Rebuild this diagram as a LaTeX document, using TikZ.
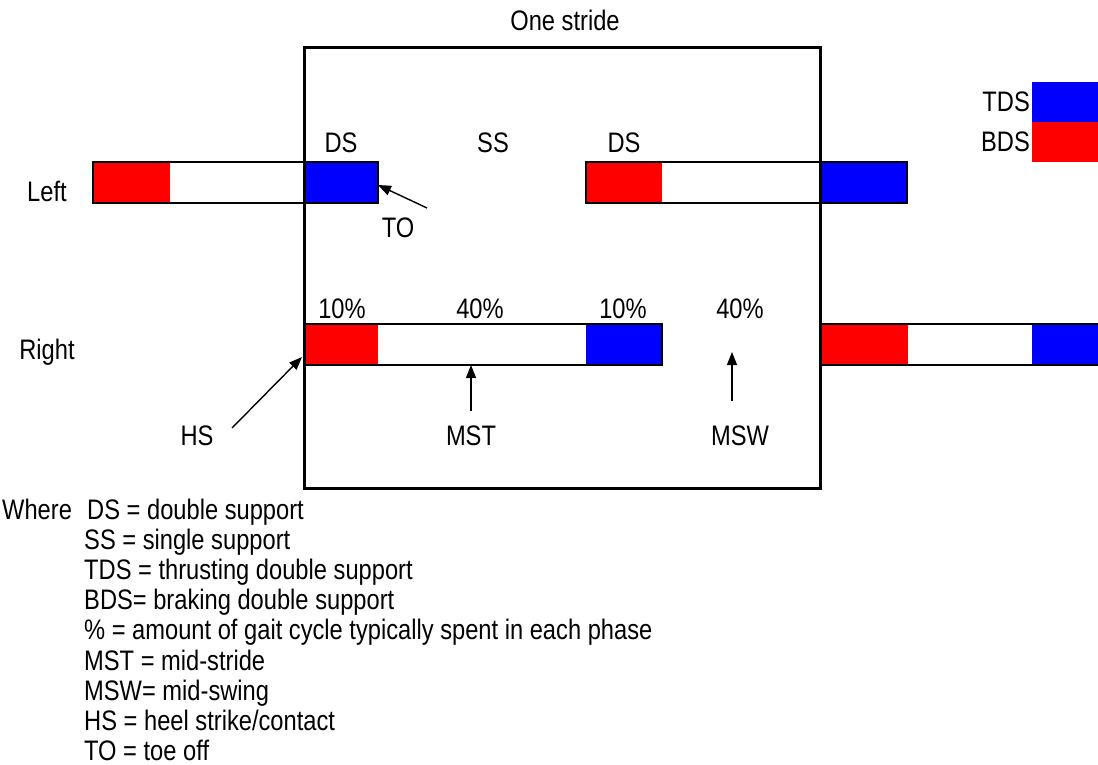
\documentclass[tikz,border=0pt]{standalone}
\usepackage{fontspec}
\setmainfont{Liberation Sans}
\newfontfamily\tallsans{Liberation Sans}[FakeStretch=0.84]
\usetikzlibrary{arrows.meta}
\tikzset{
  lbl/.style={inner sep=0pt, anchor=base, font=\tallsans\fontsize{28.2}{32}\selectfont},
  lgd/.style={lbl, anchor=base west},
  seg/.style={inner sep=0pt, outer sep=0pt, draw=none, anchor=north west, minimum height=41pt},
  barframe/.style={seg, draw=black, line width=2.5pt},
  pointer/.style={line width=1.4pt, -{Triangle[length=13pt,width=10pt]}},
}
\begin{document}
\begin{tikzpicture}[x=1pt,y=-1pt]
\useasboundingbox (0,0) rectangle (1098,765);
\clip (0,0) rectangle (1098,765);

% title
\node[lbl] (title) at (565,31) {One stride};

% legend swatches (top right)
\node[seg, fill=blue, minimum width=70pt, minimum height=40pt] (tdsbox) at (1032,82) {};
\node[seg, fill=red,  minimum width=70pt, minimum height=40pt] (bdsbox) at (1032,122) {};
\node[lbl, anchor=base east] (tdslbl) at (1030,112) {TDS};
\node[lbl, anchor=base east] (bdslbl) at (1030,152) {BDS};

% left foot bars
\node[seg, fill=red,  minimum width=77pt] (lred1)  at (93,162) {};
\node[seg, fill=blue, minimum width=74pt] (lblue1) at (304,162) {};
\node[barframe, minimum width=285pt] (lbar1) at (93,162) {};
\node[seg, fill=red,  minimum width=76pt] (lred2)  at (586,162) {};
\node[seg, fill=blue, minimum width=87pt] (lblue2) at (820,162) {};
\node[barframe, minimum width=321pt] (lbar2) at (586,162) {};

% right foot bars
\node[seg, fill=red,  minimum width=73pt] (rred1)  at (305,324) {};
\node[seg, fill=blue, minimum width=76pt] (rblue1) at (586,324) {};
\node[barframe, minimum width=357pt] (rbar1) at (305,324) {};
\node[seg, fill=red,  minimum width=88pt] (rred2)  at (820,324) {};
\node[seg, fill=blue, minimum width=70pt] (rblue2) at (1032,324) {};
\node[barframe, minimum width=282pt] (rbar2) at (820,324) {};

% the stride frame
\node[inner sep=0pt, outer sep=0pt, draw=black, line width=3pt, anchor=north west,
      minimum width=516pt, minimum height=440pt] (stride) at (304,48) {};

% phase labels
\node[lbl] (ds1) at (341,153) {DS};
\node[lbl] (ss)  at (493,153) {SS};
\node[lbl] (ds2) at (624,153) {DS};
\node[lbl] (left)  at (47,201) {Left};
\node[lbl] (right) at (47,359) {Right};
\node[lbl] (p1) at (342,318) {10\%};
\node[lbl] (p2) at (480,318) {40\%};
\node[lbl] (p3) at (623,318) {10\%};
\node[lbl] (p4) at (740,318) {40\%};

% event labels and pointers
\node[lbl] (to)  at (398,237) {TO};
\node[lbl] (hs)  at (197,445) {HS};
\node[lbl] (mst) at (471,445) {MST};
\node[lbl] (msw) at (740,445) {MSW};
\coordinate (toTail)  at (427,208);
\coordinate (hsTail)  at (232,428);
\coordinate (mstTail) at (471,411);
\coordinate (mswTail) at (732,401);
\coordinate (mswTip)  at (732,352);
\draw[pointer] (toTail) -- (378,185);
\draw[pointer] (hsTail) -- (302,357);
\draw[pointer] (mstTail) -- (rbar1.south -| mstTail);
\draw[pointer] (mswTail) -- (mswTip);

% key
\node[lgd] (where) at (2,519) {Where};
\node[lgd] (k1) at (87,519) {DS = double support};
\node[lgd] (k2) at (84,549.2) {SS = single support};
\node[lgd] (k3) at (84,579.4) {TDS = thrusting double support};
\node[lgd] (k4) at (84,609.6) {BDS= braking double support};
\node[lgd] (k5) at (84,639.8) {\% = amount of gait cycle typically spent in each phase};
\node[lgd] (k6) at (84,670.0) {MST = mid-stride};
\node[lgd] (k7) at (84,700.2) {MSW= mid-swing};
\node[lgd] (k8) at (84,730.4) {HS = heel strike/contact};
\node[lgd] (k9) at (84,760.6) {TO = toe off};
\end{tikzpicture}
\end{document}
